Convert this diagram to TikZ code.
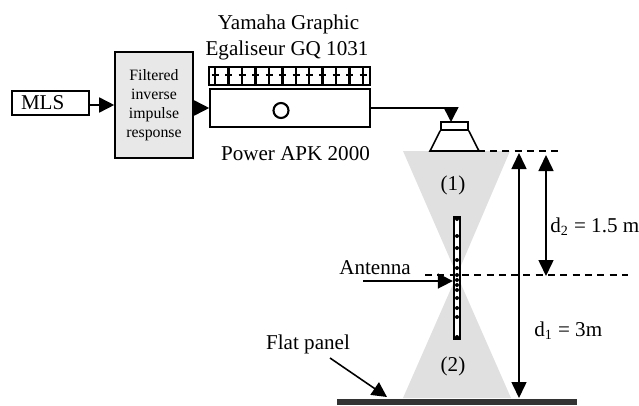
\documentclass[tikz,border=0pt]{standalone}
\usepackage{fontspec}
\setmainfont{Liberation Serif}
\usetikzlibrary{arrows.meta}
\definecolor{panelgray}{HTML}{E8E8E8}
\definecolor{conegray}{HTML}{E0E0E0}
\definecolor{platedark}{HTML}{333333}
\tikzset{
	boxnode/.style={draw, line width=.9pt, inner sep=0pt},
	arrowline/.style={line width=.9pt, -{Triangle[length=.3cm, width=.3cm]}},
	dimline/.style={line width=.9pt, {Triangle[length=.32cm, width=.3cm]}-{Triangle[length=.32cm, width=.3cm]}},
	dashline/.style={line width=.8pt, dash pattern=on 4pt off 3pt},
	faderline/.style={line width=1.3pt},
	lbl/.style={inner sep=0pt, font=\fontsize{12}{13}\selectfont}
}
\begin{document}
\begin{tikzpicture}
			\useasboundingbox (0,0) rectangle (12.78,8.1);

			\fill[conegray] (8.06,5.08) to (10.2,5.08) to (9.14,2.6) to (10.22,.14) to (8.06,.14) to (9.14,2.6) -- cycle;
			\node[lbl] (cone1) at(9.06, 4.40){(1)};
			\node[lbl] (cone2) at(9.06, .78){(2)};

			\node[boxnode, minimum width=1.54cm, minimum height=.48cm, text width=1.18cm, align=left, font=\fontsize{12}{13}\selectfont] (mls) at(1.01, 6.04){MLS};
			\node[boxnode, fill=panelgray, minimum width=1.56cm, minimum height=2.12cm, align=center, font=\fontsize{9}{10.8}\selectfont] (filter) at(3.08, 6.00){Filtered\\inverse\\impulse\\response};
			\node[boxnode, minimum width=3.22cm, minimum height=.36cm] (eq) at(5.79, 6.58){};
			\node[boxnode, minimum width=3.2cm, minimum height=.76cm] (power) at(5.80, 5.94){};
			\node[boxnode, circle, line width=1.2pt, minimum size=.3cm] (knob) at(5.62, 5.89){};

				\draw[faderline](4.30,6.76) to (4.30,6.40) (4.23,6.60) to (4.37,6.60);
				\draw[faderline](4.57,6.76) to (4.57,6.40) (4.50,6.60) to (4.64,6.60);
				\draw[faderline](4.84,6.76) to (4.84,6.40) (4.77,6.60) to (4.91,6.60);
				\draw[faderline](5.11,6.76) to (5.11,6.40) (5.04,6.60) to (5.18,6.60);
				\draw[faderline](5.38,6.76) to (5.38,6.40) (5.31,6.60) to (5.45,6.60);
				\draw[faderline](5.65,6.76) to (5.65,6.40) (5.58,6.60) to (5.72,6.60);
				\draw[faderline](5.92,6.76) to (5.92,6.40) (5.85,6.60) to (5.99,6.60);
				\draw[faderline](6.18,6.76) to (6.18,6.40) (6.11,6.60) to (6.25,6.60);
				\draw[faderline](6.45,6.76) to (6.45,6.40) (6.38,6.60) to (6.52,6.60);
				\draw[faderline](6.72,6.76) to (6.72,6.40) (6.65,6.60) to (6.79,6.60);
				\draw[faderline](6.99,6.76) to (6.99,6.40) (6.92,6.60) to (7.06,6.60);
				\draw[faderline](7.26,6.76) to (7.26,6.40) (7.19,6.60) to (7.33,6.60);

			\node[lbl] (yamaha) at(5.77, 7.62){Yamaha Graphic};
			\node[lbl] (egaliseur) at(5.74, 7.10){Egaliseur GQ 1031};
			\node[lbl] (apk) at(5.91, 5.02){Power APK 2000};

			\draw[arrowline](mls.east |- filter.west) to (filter.west);
			\draw[arrowline](filter.east |- power.west) to (power.west);

			\node[boxnode, minimum width=.54cm, minimum height=.16cm] (speaker) at(9.09, 5.58){};
			\draw[line width=.9pt](speaker.south west) to (8.6,5.08) to (9.58,5.08) to (speaker.south east);
			\coordinate (speakerin) at(9.02, 5.66);
			\draw[arrowline](power.east) -| (speakerin);

			\coordinate (top1) at(9.06, 5.08);
			\coordinate (top2) at(11.16, 5.08);
			\coordinate (mid1) at(8.5, 2.6);
			\coordinate (mid2) at(12.56, 2.6);
			\draw[dashline](top1) to (top2);
			\draw[dashline](mid1) to (mid2);

			\node[boxnode, line width=1.3pt, fill=white, minimum width=.12cm, minimum height=2.42cm] (antenna) at(9.14, 2.54){};
				\fill (9.14,3.72) circle (.04);
				\fill (9.14,3.38) circle (.04);
				\fill (9.14,3.14) circle (.04);
				\fill (9.14,2.90) circle (.04);
				\fill (9.14,2.74) circle (.04);
				\fill (9.14,2.60) circle (.04);
				\fill (9.14,2.50) circle (.04);
				\fill (9.14,2.40) circle (.04);
				\fill (9.14,2.30) circle (.04);
				\fill (9.14,2.14) circle (.04);
				\fill (9.14,1.94) circle (.04);
				\fill (9.14,1.76) circle (.04);
				\fill (9.14,1.36) circle (.04);

			\node[lbl] (antlabel) at(7.5, 2.74){Antenna};
			\coordinate (antfrom) at(7.26, 2.48);
			\draw[arrowline](antfrom) to (antfrom -| antenna.west);

			\node[fill=platedark, inner sep=0pt, minimum width=4.8cm, minimum height=.12cm] (plate) at(9.14, .06){};
			\node[lbl] (panellabel) at(6.16, 1.22){Flat panel};
			\coordinate (panelfrom) at(6.6, .94);
			\coordinate (panelto) at(7.74, .16);
			\draw[arrowline](panelfrom) to (panelto);

			\coordinate (d1top) at(10.38, 5.04);
			\coordinate (d1bot) at(10.38, .14);
			\coordinate (d2top) at(10.92, 5.0);
			\coordinate (d2bot) at(10.92, 2.58);
			\draw[dimline](d1top) to (d1bot);
			\draw[dimline](d2top) to (d2bot);
			\node[lbl, anchor=west] (d2label) at(11.0, 3.56){d\textsubscript{2} = 1.5 m};
			\node[lbl, anchor=west] (d1label) at(10.68, 1.48){d\textsubscript{1} = 3m};
\end{tikzpicture}
\end{document}
